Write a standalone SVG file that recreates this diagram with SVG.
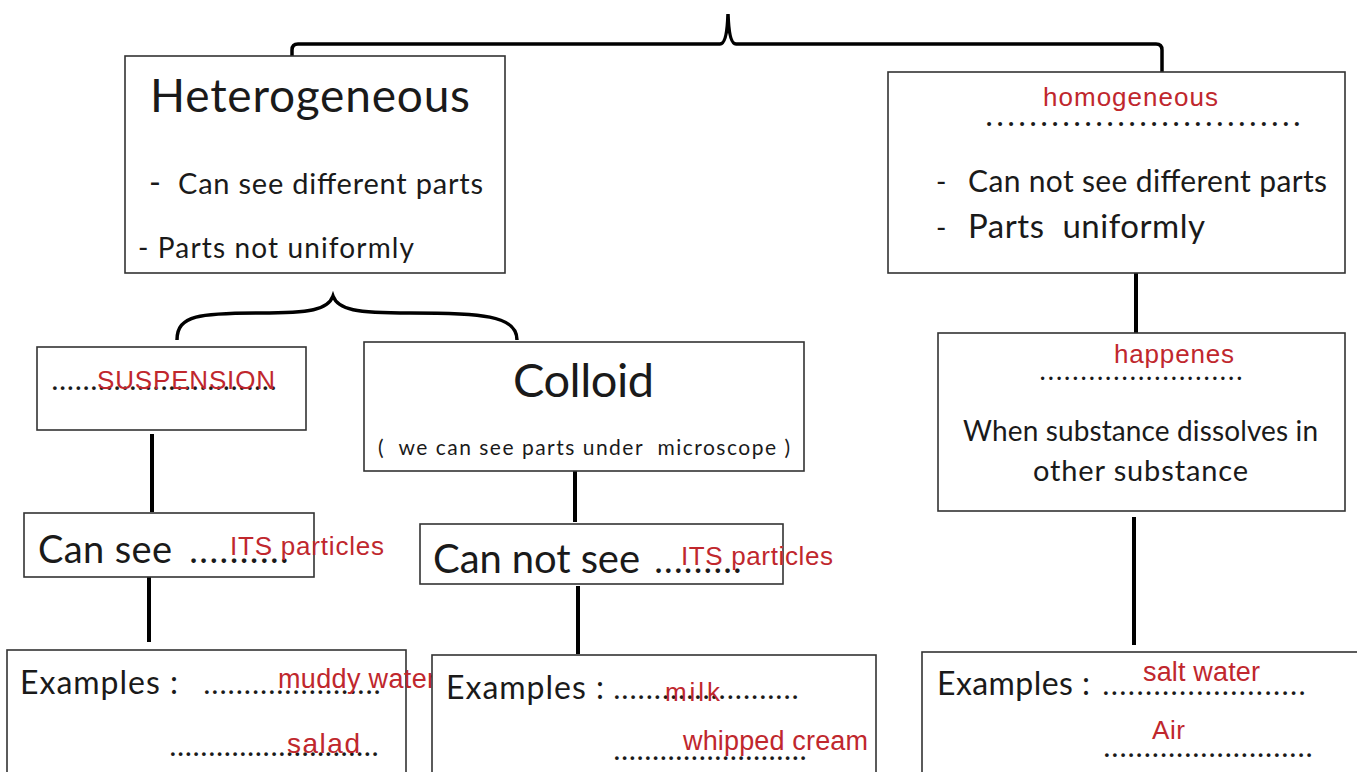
<svg xmlns="http://www.w3.org/2000/svg" width="1357" height="772" viewBox="0 0 1357 772">
<style>
.box{fill:#fff;stroke:#333;stroke-width:1.6}
.k{font-family:Lato,"Liberation Sans",sans-serif;fill:#1a1a1a}
.d{font-family:Lato,"Liberation Sans",sans-serif;fill:#1a1a1a;font-weight:bold}
.r{font-family:"Liberation Sans",Arial,sans-serif;fill:#c0272d}
.ln{stroke:#000;stroke-width:4;fill:none}
.br{stroke:#000;stroke-width:3.5;fill:none}
</style>
<rect width="1357" height="772" fill="#fff"/>
<g id="connectors">
<path class="br" d="M292 72 L292 50 Q292 44 298 44 L720 44 Q727 44 728 14 Q729 44 736 44 L1156 44 Q1162 44 1162 50 L1162 72"/>
<path class="br" d="M177 340 C177 315 200 313 260 313 C310 313 328 310 333 296 C338 310 356 313 410 313 C480 313 517 315 517 340"/>
<line class="ln" x1="152" y1="434" x2="152" y2="512"/>
<line class="ln" x1="149" y1="577" x2="149" y2="642"/>
<line class="ln" x1="575" y1="471" x2="575" y2="522"/>
<line class="ln" x1="578" y1="586" x2="578" y2="654"/>
<line class="ln" x1="1136" y1="273" x2="1136" y2="333"/>
<line class="ln" x1="1134" y1="517" x2="1134" y2="645"/>
</g>
<g id="heterogeneous">
<rect class="box" x="125" y="56" width="380" height="217"/>
<text class="k" x="150" y="112" font-size="46" textLength="320">Heterogeneous</text>
<text class="k" x="149" y="194" font-size="32">-</text>
<text class="k" x="178" y="194" font-size="29" textLength="305">Can see different parts</text>
<text class="k" x="138" y="258" font-size="28" textLength="276">- Parts not uniformly</text>
</g>
<g id="homogeneous">
<rect class="box" x="888" y="72" width="457" height="201"/>
<text class="r" x="1043" y="106" font-size="26" textLength="175">homogeneous</text>
<text class="d" x="986" y="126" font-size="26" textLength="314">.............................</text>
<text class="k" x="936" y="192" font-size="28">-</text>
<text class="k" x="968" y="192" font-size="30" textLength="359">Can not see different parts</text>
<text class="k" x="936" y="238" font-size="28">-</text>
<text class="k" x="968" y="238" font-size="33" textLength="237" xml:space="preserve">Parts  uniformly</text>
</g>
<g id="suspension">
<rect class="box" x="37" y="347" width="269" height="83"/>
<text class="d" x="52" y="390" font-size="24" textLength="224">.............................</text>
<text class="r" x="97" y="389" font-size="26" textLength="178">SUSPENSION</text>
</g>
<g id="colloid">
<rect class="box" x="364" y="342" width="440" height="129"/>
<text class="k" x="513" y="397" font-size="47" textLength="141">Colloid</text>
<text class="k" x="378" y="455" font-size="21" textLength="412" xml:space="preserve">(  we can see parts under  microscope )</text>
</g>
<g id="can-see">
<rect class="box" x="24" y="513" width="290" height="64"/>
<text class="k" x="38" y="563" font-size="38" textLength="134">Can see</text>
<text class="d" x="190" y="563" font-size="30" textLength="98">..........</text>
<text class="r" x="230" y="555" font-size="26" textLength="154">ITS particles</text>
</g>
<g id="can-not-see">
<rect class="box" x="420" y="524" width="363" height="60"/>
<text class="k" x="433" y="573" font-size="40" textLength="207">Can not see</text>
<text class="d" x="655" y="573" font-size="30" textLength="86">.........</text>
<text class="r" x="681" y="565" font-size="26" textLength="152">ITS particles</text>
</g>
<g id="solution">
<rect class="box" x="938" y="333" width="407" height="178"/>
<text class="r" x="1114" y="363" font-size="26" textLength="120">happenes</text>
<text class="d" x="1040" y="380" font-size="22" textLength="202">.........................</text>
<text class="k" x="963" y="441" font-size="28" textLength="355">When substance dissolves in</text>
<text class="k" x="1033" y="481" font-size="29" textLength="215">other substance</text>
</g>
<g id="examples-suspension">
<rect class="box" x="7" y="650" width="399" height="130"/>
<text class="k" x="20" y="694" font-size="32" textLength="158">Examples :</text>
<text class="d" x="204" y="694" font-size="24" textLength="176">......................</text>
<text class="r" x="278" y="688" font-size="27" textLength="158">muddy water</text>
<text class="d" x="170" y="756" font-size="24" textLength="208">...........................</text>
<text class="r" x="287" y="753" font-size="28" textLength="73">salad</text>
</g>
<g id="examples-colloid">
<rect class="box" x="432" y="655" width="444" height="125"/>
<text class="k" x="446" y="699" font-size="32" textLength="158">Examples :</text>
<text class="d" x="614" y="699" font-size="24" textLength="184">.......................</text>
<text class="r" x="665" y="701" font-size="26" textLength="55">milk</text>
<text class="d" x="614" y="760" font-size="24" textLength="192">.........................</text>
<text class="r" x="683" y="750" font-size="27" textLength="185">whipped cream</text>
</g>
<g id="examples-solution">
<rect class="box" x="922" y="652" width="445" height="128"/>
<text class="k" x="937" y="695" font-size="32" textLength="153">Examples :</text>
<text class="d" x="1103" y="695" font-size="24" textLength="202">........................</text>
<text class="r" x="1143" y="681" font-size="27" textLength="117">salt water</text>
<text class="r" x="1152" y="739" font-size="26" textLength="33">Air</text>
<text class="d" x="1104" y="757" font-size="24" textLength="208">..........................</text>
</g>
</svg>
